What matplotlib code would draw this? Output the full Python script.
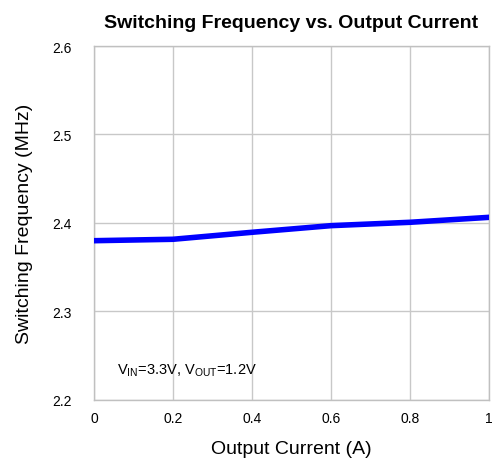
import matplotlib
matplotlib.use("Agg")
import matplotlib.pyplot as plt

plt.rcParams["font.family"] = ["Liberation Sans", "DejaVu Sans"]
plt.rcParams["mathtext.fontset"] = "custom"
plt.rcParams["mathtext.rm"] = "Liberation Sans"

current = [0, 0.2, 0.4, 0.6, 0.8, 1.0]
freq = [2.380, 2.3816, 2.3895, 2.397, 2.4008, 2.4064]
x_ticks = [0, 0.2, 0.4, 0.6, 0.8, 1]
x_labels = ["0", "0.2", "0.4", "0.6", "0.8", "1"]
y_ticks = [2.2, 2.3, 2.4, 2.5, 2.6]
y_labels = ["2.2", "2.3", "2.4", "2.5", "2.6"]

fig = plt.figure(figsize=(4.99, 4.64), dpi=100)
ax = fig.add_axes([0.1884, 0.1358, 0.7916, 0.7629])

ax.plot(current, freq, color="#0000ff", linewidth=4.0, solid_capstyle="round", zorder=3)

ax.set_xlim(0, 1)
ax.set_ylim(2.2, 2.6)
ax.set_xticks(x_ticks)
ax.set_xticklabels(x_labels)
ax.set_yticks(y_ticks)
ax.set_yticklabels(y_labels)
ax.tick_params(length=0, labelsize=10, colors="black")
ax.tick_params(axis="y", pad=16)
ax.tick_params(axis="x", pad=8)
ax.grid(True, color="#c8c8c8", linewidth=1.0)
for s in ax.spines.values():
    s.set_color("#c0c0c0")
    s.set_linewidth(1.0)

ax.set_xlabel("Output Current (A)", fontsize=14, labelpad=11)
ax.set_ylabel("Switching Frequency (MHz)", fontsize=14, labelpad=14)
ax.set_title("Switching Frequency vs. Output Current", fontsize=14,
             fontweight="bold", pad=14)

ax.text(0.058, 0.085, r"V$_{\mathrm{IN}}$=3.3V, V$_{\mathrm{OUT}}$=1.2V",
        transform=ax.transAxes, fontsize=10.5, ha="left", va="center")

fig.savefig("out.png", dpi=100)
